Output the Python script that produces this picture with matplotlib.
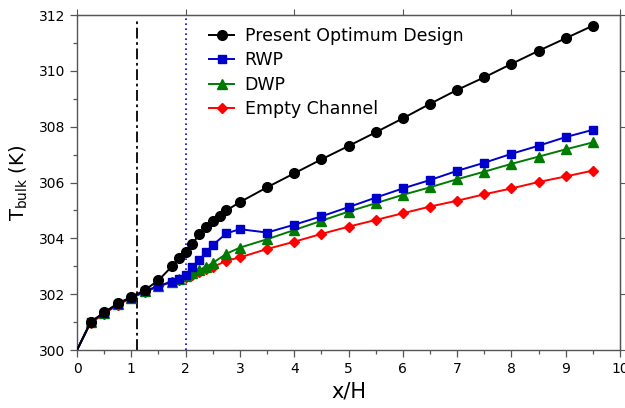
import numpy as np
import matplotlib
matplotlib.use('Agg')
import matplotlib.pyplot as plt
from matplotlib.ticker import MultipleLocator

# bulk temperature along the channel
x_opt = [0, 0.25, 0.5, 0.75, 1.0, 1.25, 1.5, 1.75, 1.875, 2.0, 2.125, 2.25, 2.375, 2.5,
         2.625, 2.75, 3.0, 3.5, 4.0, 4.5, 5.0, 5.5, 6.0, 6.5, 7.0, 7.5, 8.0, 8.5, 9.0, 9.5]
t_opt = [300.0, 301.0, 301.35, 301.67, 301.9, 302.15, 302.5, 303.0, 303.3, 303.5, 303.8,
         304.15, 304.42, 304.63, 304.8, 305.0, 305.3, 305.83, 306.33, 306.83, 307.31,
         307.8, 308.3, 308.82, 309.32, 309.77, 310.25, 310.72, 311.17, 311.62]

x_ref = [0, 0.25, 0.5, 0.75, 1.0, 1.25, 1.5, 1.75, 1.875, 2.0, 2.125, 2.25, 2.375, 2.5,
         2.75, 3.0, 3.5, 4.0, 4.5, 5.0, 5.5, 6.0, 6.5, 7.0, 7.5, 8.0, 8.5, 9.0, 9.5]
t_rwp = [300.0, 301.0, 301.33, 301.65, 301.88, 302.1, 302.3, 302.45, 302.55, 302.68,
         302.99, 303.22, 303.5, 303.76, 304.18, 304.33, 304.21, 304.49, 304.79, 305.12,
         305.46, 305.79, 306.09, 306.42, 306.71, 307.03, 307.32, 307.63, 307.89]
t_dwp = [300.0, 301.0, 301.33, 301.65, 301.88, 302.1, 302.3, 302.45, 302.55, 302.65,
         302.76, 302.87, 302.98, 303.12, 303.45, 303.67, 303.97, 304.3, 304.63, 304.96,
         305.26, 305.56, 305.83, 306.12, 306.39, 306.67, 306.93, 307.19, 307.44]
t_empty = [300.0, 300.97, 301.3, 301.62, 301.86, 302.08, 302.28, 302.43, 302.52, 302.62,
           302.7, 302.8, 302.9, 302.97, 303.2, 303.32, 303.62, 303.88, 304.16, 304.42,
           304.66, 304.9, 305.14, 305.35, 305.58, 305.79, 306.02, 306.22, 306.43]

x_dashdot = 1.1   # black dash-dot marker line
x_dotted = 2.0    # blue dotted marker line

fig = plt.figure(figsize=(6.25, 4.08), dpi=100)
ax = fig.add_axes([0.1232, 0.142, 0.8688, 0.821])

ax.axvline(x_dashdot, ymax=0.985, color='black', ls=(0, (6, 2, 1.5, 2)), lw=1.3, zorder=1)
ax.axvline(x_dotted, color='#0000ee', ls=(0, (1, 2)), lw=1.2, zorder=1)

skip0 = list(range(1, len(x_ref)))
l4, = ax.plot(x_ref, t_empty, color='#ff0000', marker='D', ms=5.5, lw=1.4,
              markevery=skip0, label='Empty Channel', zorder=2)
l3, = ax.plot(x_ref, t_dwp, color='#007a00', marker='^', ms=7, lw=1.4,
              markevery=skip0, label='DWP', zorder=3)
l2, = ax.plot(x_ref, t_rwp, color='#0000cc', marker='s', ms=6, lw=1.4,
              markevery=skip0, label='RWP', zorder=4)
l1, = ax.plot(x_opt, t_opt, color='black', marker='o', ms=7, lw=1.4,
              markevery=list(range(1, len(x_opt))), label='Present Optimum Design', zorder=5)

ax.set_xlim(0, 10)
ax.set_ylim(300, 312)
ax.xaxis.set_major_locator(MultipleLocator(1))
ax.xaxis.set_minor_locator(MultipleLocator(0.5))
ax.yaxis.set_major_locator(MultipleLocator(2))
ax.yaxis.set_minor_locator(MultipleLocator(1))
ax.tick_params(which='major', direction='out', length=5, width=0.9, colors='#555555',
               labelcolor='black', labelsize=10)
ax.tick_params(which='minor', direction='out', length=3, width=0.9, colors='#555555')

# top/right ticks without labels
top = ax.secondary_xaxis('top')
top.set_xticks([0, 2, 4, 6, 8, 10])
top.set_xticklabels([])
top.tick_params(direction='out', length=4, colors='#555555')
right = ax.secondary_yaxis('right')
right.set_yticks([300, 302, 304, 306, 308, 310, 312])
right.set_yticklabels([])
right.tick_params(direction='out', length=4, colors='#555555')
for sec in (top, right):
    for s in sec.spines.values():
        s.set_color('#555555')

for s in ax.spines.values():
    s.set_color('#555555')
    s.set_linewidth(1.0)

ax.set_xlabel('x/H', fontsize=15, labelpad=4)
ax.set_ylabel(r'T$_{\mathregular{bulk}}$ (K)', fontsize=14, labelpad=6)

ax.legend(handles=[l1, l2, l3, l4], loc='upper left', bbox_to_anchor=(0.315, 0.964),
          bbox_transform=fig.transFigure, frameon=False, fontsize=12.5,
          handlelength=1.45, handletextpad=0.6, labelspacing=0.37, borderpad=0.2)

fig.savefig('out.png', dpi=100)
